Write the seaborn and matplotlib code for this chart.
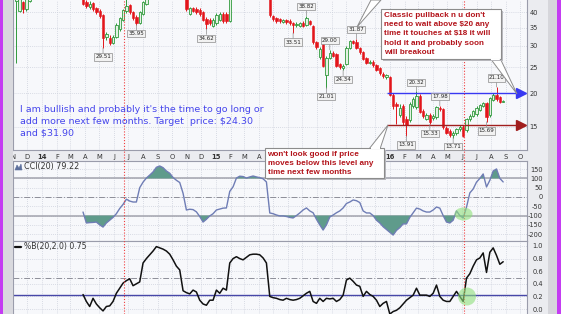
import numpy as np
import pandas as pd
import matplotlib
matplotlib.use("Agg")
import matplotlib.pyplot as plt
import matplotlib.dates as mdates
from matplotlib.patches import Rectangle, Polygon, Ellipse
from matplotlib.lines import Line2D
from matplotlib.ticker import NullLocator
from matplotlib.transforms import IdentityTransform
import seaborn as sns

# ---------------- data (weekly candles) ----------------
week_start = "2013-11-08"
opens = [44.0, 40.5, 43.5, 41.2, 44.0, 47.5, 49.0, 48.0, 51.0, 53.0,
         52.0, 50.0, 51.5, 54.0, 52.5, 50.0, 51.0, 49.0, 50.5, 48.5,
         47.0, 43.5, 42.0, 43.2, 41.5, 40.5, 39.0, 32.3, 32.2, 30.8,
         32.5, 34.8, 37.5, 40.3, 42.5, 40.0, 38.5, 36.6, 39.5, 43.0,
         46.5, 48.0, 50.0, 52.5, 51.5, 53.0, 51.0, 52.0, 49.5, 48.0,
         48.5, 46.0, 39.5, 41.5, 41.2, 40.8, 40.0, 37.8, 37.4, 35.6,
         36.5, 37.3, 39.5, 39.5, 37.2, 46.5, 49.0, 51.5, 50.5, 52.5,
         51.0, 53.5, 52.5, 51.0, 50.0, 49.0, 47.0, 38.6, 38.0, 37.6,
         36.8, 37.3, 37.2, 36.5, 35.8, 35.6, 36.6, 35.8, 37.0, 35.5,
         31.0, 27.2, 30.7, 23.4, 27.1, 28.2, 28.0, 25.6, 24.8, 25.8,
         29.5, 31.3, 31.0, 29.5, 28.4, 27.0, 26.0, 26.2, 25.4, 24.8,
         23.6, 23.0, 23.0, 19.8, 18.2, 16.6, 17.9, 16.0, 15.9, 18.0,
         17.8, 19.6, 17.2, 16.1, 16.6, 16.2, 16.3, 17.7, 17.5, 14.9,
         14.5, 14.0, 14.2, 14.7, 15.0, 14.6, 16.0, 16.5, 16.7, 17.4,
         18.0, 18.4, 16.6, 18.9, 19.7, 19.3, 18.6]
highs = [48.0, 46.0, 44.0, 46.0, 48.5, 50.0, 50.5, 52.0, 54.0, 54.5,
         53.0, 52.5, 55.0, 55.0, 53.0, 52.0, 51.5, 51.0, 51.0, 49.0,
         47.5, 44.5, 44.0, 43.8, 42.0, 41.0, 39.5, 33.8, 32.8, 33.0,
         36.5, 38.5, 41.2, 45.2, 43.0, 40.5, 39.0, 40.5, 44.0, 47.0,
         49.0, 51.0, 53.5, 54.0, 54.0, 53.5, 53.0, 52.5, 50.5, 49.5,
         49.0, 46.5, 42.0, 42.0, 41.8, 41.3, 40.5, 38.3, 38.0, 38.0,
         39.8, 40.0, 40.0, 40.0, 47.0, 50.0, 52.5, 52.5, 53.5, 53.0,
         54.5, 55.0, 53.0, 52.0, 51.0, 49.5, 47.5, 39.2, 38.5, 38.0,
         37.8, 37.7, 37.6, 36.8, 36.7, 36.8, 37.0, 38.82, 37.4, 35.8,
         31.4, 29.6, 31.0, 27.5, 29.0, 28.6, 28.3, 26.0, 25.7, 29.9,
         31.6, 31.6, 31.87, 29.8, 28.7, 27.3, 26.6, 26.5, 25.7, 25.0,
         24.0, 23.6, 23.2, 20.1, 18.6, 18.2, 18.2, 16.5, 18.6, 19.4,
         20.32, 19.9, 17.5, 16.9, 16.9, 16.8, 18.0, 17.98, 17.7, 15.1,
         14.7, 14.5, 14.9, 15.2, 15.3, 16.2, 16.7, 17.4, 17.9, 18.3,
         18.6, 18.6, 19.4, 20.0, 21.10, 19.5, 18.9]
lows = [26.0, 40.0, 39.9, 40.5, 43.5, 46.5, 47.0, 47.5, 50.0, 50.5,
        49.0, 49.0, 51.0, 51.5, 49.0, 48.5, 48.0, 47.5, 47.0, 45.5,
        42.5, 41.5, 41.0, 40.5, 39.5, 38.0, 29.51, 31.5, 30.3, 30.5,
        32.0, 34.2, 37.0, 39.8, 39.5, 37.5, 35.95, 36.2, 39.0, 42.5,
        45.5, 47.0, 49.5, 50.5, 50.0, 50.0, 49.5, 48.5, 47.0, 46.5,
        45.0, 40.5, 39.0, 40.0, 39.5, 38.8, 37.0, 34.62, 35.8, 35.2,
        36.0, 37.0, 36.5, 36.5, 36.8, 46.0, 48.5, 49.5, 50.0, 50.0,
        50.5, 51.5, 50.0, 49.0, 47.5, 46.0, 38.5, 37.2, 36.6, 36.5,
        36.4, 36.3, 36.0, 33.51, 35.4, 35.2, 35.2, 35.5, 35.8, 30.6,
        29.2, 26.8, 25.0, 21.01, 26.8, 27.2, 25.0, 24.6, 24.34, 25.5,
        29.2, 30.4, 29.2, 28.0, 26.5, 25.7, 25.7, 25.0, 24.2, 23.4,
        22.8, 22.7, 19.5, 17.5, 15.4, 16.3, 15.2, 13.91, 15.6, 17.7,
        17.5, 16.9, 16.2, 15.9, 15.33, 15.9, 16.1, 17.2, 14.8, 14.1,
        13.8, 13.71, 14.0, 14.5, 13.78, 14.4, 15.8, 16.3, 16.5, 17.2,
        17.8, 15.69, 16.4, 18.7, 18.8, 18.4, 18.5]
closes = [47.0, 45.0, 41.0, 44.8, 47.5, 49.0, 48.0, 51.0, 53.0, 52.0,
          50.0, 51.5, 54.0, 52.5, 50.0, 51.0, 49.0, 50.5, 48.5, 47.0,
          43.0, 42.2, 43.0, 41.0, 40.0, 38.6, 32.0, 33.2, 30.8, 32.5,
          36.0, 38.0, 40.6, 42.2, 40.0, 38.0, 36.6, 40.0, 43.5, 46.5,
          48.0, 50.0, 52.5, 51.5, 53.0, 51.0, 52.0, 49.5, 48.0, 48.5,
          46.0, 41.0, 41.5, 40.5, 40.0, 39.3, 37.5, 36.3, 36.5, 37.5,
          39.2, 39.5, 37.2, 37.2, 46.5, 49.0, 51.5, 50.5, 52.5, 51.0,
          53.5, 52.5, 51.0, 50.0, 49.0, 47.0, 39.0, 37.6, 37.2, 37.0,
          37.3, 36.8, 36.5, 35.8, 36.3, 36.4, 35.6, 38.0, 36.2, 31.0,
          29.8, 29.2, 25.3, 27.1, 28.2, 27.6, 25.3, 25.0, 25.3, 29.5,
          31.3, 30.8, 29.5, 28.4, 26.8, 26.0, 26.2, 25.4, 24.5, 23.8,
          23.2, 23.3, 19.7, 17.9, 17.9, 17.7, 15.6, 15.3, 18.3, 19.1,
          19.6, 17.1, 16.5, 16.6, 15.6, 16.5, 17.8, 17.5, 15.0, 14.3,
          14.0, 14.3, 14.7, 15.0, 13.85, 16.0, 16.5, 17.2, 17.7, 18.1,
          18.4, 16.4, 19.2, 19.8, 19.0, 18.6, 18.7]

indicator_start = 20  # first week with indicator values
cci_values = [-81, -140, -138, -137, -135, -150, -162, -140, -125, -110,
              -90, -62, -40, -12, -22, -27, -27, 50, 80, 102,
              118, 135, 160, 167, 158, 140, 128, 105, 90, 78,
              20, -70, -66, -68, -80, -105, -135, -120, -102, -90,
              -70, -65, -60, -59, 30, 55, 102, 112, 110, 102,
              108, 113, 108, 104, 98, 81, -86, -90, -97, -102,
              -102, -105, -110, -113, -100, -86, -70, -59, -75, -85,
              -120, -150, -178, -150, -108, -97, -85, -75, -59, -35,
              -27, -16, -20, -30, -75, -86, -86, -100, -125, -140,
              -160, -175, -190, -205, -180, -165, -145, -145, -110, -85,
              -60, -65, -75, -81, -81, -70, -54, -60, -100, -135,
              -140, -125, -75, -100, -113, -55, 22, 43, 80, 100,
              124, 54, 90, 140, 151, 100, 81]
pctb_values = [0.23, 0.12, 0.04, 0.17, 0.08, 0.02, -0.03, 0.04, 0.05, 0.12,
               0.25, 0.33, 0.41, 0.45, 0.48, 0.37, 0.40, 0.43, 0.73, 0.80,
               0.86, 0.92, 0.99, 0.97, 0.95, 0.92, 0.87, 0.78, 0.68, 0.62,
               0.29, 0.26, 0.24, 0.30, 0.27, 0.14, 0.08, 0.06, 0.14, 0.14,
               0.30, 0.25, 0.33, 0.30, 0.73, 0.80, 0.83, 0.80, 0.78, 0.82,
               0.86, 0.87, 0.87, 0.86, 0.81, 0.73, 0.20, 0.18, 0.17, 0.15,
               0.14, 0.17, 0.15, 0.14, 0.15, 0.17, 0.21, 0.25, 0.28, 0.12,
               0.09, 0.17, 0.12, 0.17, 0.16, 0.17, 0.12, 0.15, 0.22, 0.46,
               0.49, 0.44, 0.38, 0.36, 0.20, 0.28, 0.23, 0.20, 0.14, 0.04,
               0.09, 0.12, -0.08, -0.04, -0.02, 0.02, 0.08, 0.14, 0.18, 0.22,
               0.33, 0.22, 0.22, 0.22, 0.20, 0.25, 0.38, 0.20, 0.14, 0.12,
               0.12, 0.20, 0.28, 0.20, 0.12, 0.49, 0.56, 0.68, 0.78, 0.81,
               0.89, 0.58, 0.90, 0.97, 0.85, 0.71, 0.75]

month_labels = ["N", "D", "14", "F", "M", "A", "M", "J", "J", "A", "S", "O",
                "N", "D", "15", "F", "M", "A", "M", "J", "J", "A", "S", "O",
                "N", "D", "16", "F", "M", "A", "M", "J", "J", "A", "S", "O"]
price_ticks = [15, 20, 25, 30, 35, 40]
cci_ticks = [150, 100, 50, 0, -50, -100, -150, -200]
pctb_ticks = [0.0, 0.2, 0.4, 0.6, 0.8, 1.0]
resistance_level = 20.0
support_level = 15.3
pctb_signal = 0.23
marker_dates = ["2014-06-22", "2016-06-04"]
# (week index, price, label text, +1 above / -1 below)
price_labels = [(26, 29.51, "29.51", -1), (36, 35.95, "35.95", -1),
                (57, 34.62, "34.62", -1), (83, 33.51, "33.51", -1),
                (87, 38.82, "38.82", 1), (94, 29.00, "29.00", 1),
                (93, 21.01, "21.01", -1), (98, 24.34, "24.34", -1),
                (102, 31.87, "31.87", 1), (120, 20.32, "20.32", 1),
                (117, 13.91, "13.91", -1), (124, 15.33, "15.33", -1),
                (127, 17.98, "17.98", 1), (131, 13.71, "13.71", -1),
                (141, 15.69, "15.69", -1), (144, 21.10, "21.10", 1)]
cci_title = "CCI(20) 79.22"
pctb_title = "%B(20,2.0) 0.75"
note_bull = ["I am bullish and probably it's the time to go long or",
             "add more next few months. Target  price: $24.30",
             "and $31.90"]
note_pullback = ["Classic pullback n u don't", "need to wait above $20 any",
                 "time it touches at $18 it will", "hold it and probably soon",
                 "will breakout"]
note_support = ["won't look good if price", "moves below this level any",
                "time next few months"]

# ---------------- drawing ----------------
sns.set_theme(style="white")
plt.rcParams["font.family"] = ["DejaVu Sans"]

W, H = 561, 314
fig = plt.figure(figsize=(W / 100, H / 100), dpi=100)
fig.patch.set_facecolor("#ebecf0")
PX = IdentityTransform()


def rect(x0, y0, x1, y1):
    return [x0 / W, 1 - y1 / H, (x1 - x0) / W, (y1 - y0) / H]


L, R = 13, 527
ax_p = fig.add_axes(rect(L, 0, R, 150.5))
ax_c = fig.add_axes(rect(L, 160.5, R, 241))
ax_b = fig.add_axes(rect(L, 241, R, 314))

dates = pd.date_range(week_start, periods=len(closes), freq="W-FRI")
xn = mdates.date2num(dates)
xmin = mdates.date2num(pd.Timestamp("2013-11-01"))
xmax = mdates.date2num(pd.Timestamp("2016-10-15"))


def px2x(px):
    return xmin + (px - L) / (R - L) * (xmax - xmin)


def x2px(x):
    return L + (x - xmin) / (xmax - xmin) * (R - L)


months = pd.date_range("2013-11-01", periods=len(month_labels), freq="MS")
mn = mdates.date2num(months)

# ---- price panel ----
o, h, l, c = (np.array(a, float) for a in (opens, highs, lows, closes))
up = c >= o
wick_col = np.where(up, "#2f9a3c", "#e3151b")
ax_p.vlines(xn, l, h, colors=wick_col, linewidth=0.7, zorder=2)
lo = np.minimum(o, c)
ht = np.maximum(np.abs(c - o), 0.08)
ax_p.bar(xn[up], ht[up], bottom=lo[up], width=5.0, color="#e4f2e4",
         edgecolor="#2f9a3c", linewidth=0.6, zorder=3)
ax_p.bar(xn[~up], ht[~up], bottom=lo[~up], width=5.0, color="#e3151b",
         edgecolor="#e3151b", linewidth=0.4, zorder=3)

ax_p.hlines(resistance_level, px2x(387), px2x(518), color="#3838f2", lw=1.0, zorder=4)
ax_p.hlines(support_level, px2x(387), px2x(518), color="#a11e1e", lw=1.0, zorder=4)
ax_p.plot([px2x(521)], [resistance_level], marker=">", ms=7.5, color="#3838f2",
          clip_on=False, zorder=6)
ax_p.plot([px2x(521)], [support_level], marker=">", ms=7.5, color="#a11e1e",
          clip_on=False, zorder=6)

for i, v, txt, side in price_labels:
    ax_p.annotate(txt, xy=(xn[i], v), xytext=(0, side * 6.6),
                  textcoords="offset points", ha="center", va="center",
                  fontsize=4.0, color="#222222", zorder=7,
                  bbox=dict(boxstyle="square,pad=0.2", fc="#f2f2f2", ec="#8c8c8c", lw=0.5),
                  arrowprops=dict(arrowstyle="-", color="#8c8c8c", lw=0.5,
                                  shrinkA=0, shrinkB=0))

ax_p.set_yscale("log")
ax_p.set_ylim(12.27, 44.4)
ax_p.set_yticks(price_ticks)
ax_p.set_yticklabels([str(t) for t in price_ticks])
ax_p.yaxis.set_minor_locator(NullLocator())

# ---- CCI panel ----
xc = xn[indicator_start:]
ci = np.array(cci_values, float)
ax_c.fill_between(xc, ci, 100, where=ci >= 100, interpolate=True,
                  color="#5f9b8b", lw=0, zorder=2)
ax_c.fill_between(xc, ci, -100, where=ci <= -100, interpolate=True,
                  color="#5f9b8b", lw=0, zorder=2)
ax_c.axhline(100, color="#a2a3ad", lw=1.1, zorder=1.5)
ax_c.axhline(-100, color="#a2a3ad", lw=1.1, zorder=1.5)
ax_c.axhline(0, color="#8d8e98", lw=0.7, ls=(0, (6, 2, 1, 2)), zorder=1.5)
sns.lineplot(x=xc, y=ci, ax=ax_c, color="#6f7db5", linewidth=1.0, zorder=3)
ax_c.set_ylim(-237, 196.5)
ax_c.set_yticks(cci_ticks)
ax_c.set_yticklabels([str(t) for t in cci_ticks])

# ---- %B panel ----
bi = np.array(pctb_values, float)
ax_b.axhline(0.5, color="#8d8e98", lw=0.7, ls=(0, (6, 2, 1, 2)), zorder=1.5)
ax_b.axhline(pctb_signal, color="#4747a8", lw=1.0, zorder=1.5)
sns.lineplot(x=xc, y=bi, ax=ax_b, color="#111111", linewidth=1.1, zorder=3)
ax_b.set_ylim(-0.079, 1.079)
ax_b.set_yticks(pctb_ticks)
ax_b.set_yticklabels([f"{t:.1f}" for t in pctb_ticks])

# ---- common styling ----
for ax in (ax_p, ax_c, ax_b):
    ax.set_facecolor("#f7f8fb")
    ax.set_xlim(xmin, xmax)
    ax.set_xticks(mn)
    ax.set_xlabel("")
    ax.set_ylabel("")
    ax.grid(True, which="major", color="#cdd1dc", linestyle=(0, (1, 1.5)), linewidth=0.6)
    ax.set_axisbelow(True)
    for s in ax.spines.values():
        s.set_color("#9a9cab")
        s.set_linewidth(0.8)
    ax.yaxis.tick_right()
    ax.tick_params(axis="y", which="both", length=0, labelsize=4.8, labelcolor="#333333")
    ax.tick_params(axis="x", length=0, labelbottom=False)
ax_p.spines["top"].set_visible(False)
ax_b.spines["bottom"].set_visible(False)
ax_p.tick_params(axis="y", pad=1.6)
for ax in (ax_c, ax_b):
    ax.tick_params(axis="y", pad=11.4)
    for lab in ax.get_yticklabels():
        lab.set_horizontalalignment("right")

# month labels; the ones sitting under the "won't look good" note box are hidden by it
box2 = (265, 384)
shown_months = ["" if box2[0] + 3 < x2px(m) < box2[1] + 3 else t
                for t, m in zip(month_labels, mn)]
ax_p.tick_params(axis="x", labelbottom=True, pad=2.2, labelsize=4.9, labelcolor="#333333")
ax_p.set_xticklabels(shown_months)
for lab in ax_p.get_xticklabels():
    if lab.get_text().isdigit():
        lab.set_fontweight("bold")

# ---------------- figure-level decorations (pixel coordinates) ----------------
def add_rect(x0, y0, x1, y1, **kw):
    fig.add_artist(Rectangle((x0, H - y1), x1 - x0, y1 - y0, transform=PX, **kw))


def add_poly(pts, **kw):
    fig.add_artist(Polygon([(x, H - y) for x, y in pts], closed=True, transform=PX, **kw))


def ftext(x, y, s, **kw):
    fig.text(x / W, 1 - y / H, s, **kw)


add_rect(0, 0, 3, H, fc="#c43cf2", ec="none", zorder=1)
add_rect(3, 0, 12.5, H, fc="#d9d9de", ec="none", zorder=1)
add_rect(548, 0, 557, H, fc="#d6d6db", ec="none", zorder=1)
add_rect(557, 0, W, H, fc="#c43cf2", ec="none", zorder=1)

# vertical red dotted markers
for d in marker_dates:
    xp = x2px(mdates.date2num(pd.Timestamp(d)))
    fig.add_artist(Line2D([xp, xp], [0, H], transform=PX, color="#f03c3c",
                          lw=0.8, ls=(0, (1, 1.6)), zorder=4))

# panel titles
add_poly([(15, 170), (17, 165), (19, 168), (21, 164), (22, 170)], fc="#5c6f9c",
         ec="#5c6f9c", lw=0.4, zorder=5)
ftext(24, 167, cci_title, fontsize=5.8, color="#333333", va="center", ha="left", zorder=5)
fig.add_artist(Line2D([15, 21], [H - 246.5, H - 246.5], transform=PX, color="#111111",
                      lw=1.6, zorder=5))
ftext(24, 246.5, pctb_title, fontsize=5.6, color="#333333", va="center", ha="left", zorder=5)

# bullish note
for k, line in enumerate(note_bull):
    ftext(20, 109.5 + 11.8 * k, line, fontsize=6.8, color="#4646ec",
          va="center", ha="left", zorder=5)

# callout tails and boxes
tail_kw = dict(fc="white", ec="#8c8c8c", lw=0.7, zorder=6)
add_poly([(371, 0), (381, 0), (357, 27)], **tail_kw)
add_poly([(490, 58), (500, 58), (517, 94)], **tail_kw)
add_poly([(369, 149), (380, 149), (388, 125)], **tail_kw)

add_rect(383, 11, 503, 61, fc="#b9b9be", ec="none", zorder=6.5)
add_rect(381, 9, 501, 59, fc="white", ec="#8c8c8c", lw=0.8, zorder=7)
add_rect(267, 150, 386, 180, fc="#b9b9be", ec="none", zorder=6.5)
add_rect(box2[0], 148, box2[1], 178, fc="white", ec="#8c8c8c", lw=0.8, zorder=7)
add_poly([(491, 58.2), (499.5, 58.2), (500, 60), (491, 60)], fc="white", ec="none", zorder=7.2)
add_poly([(370.5, 147.3), (379.5, 147.3), (379.5, 149), (370.5, 149)], fc="white", ec="none", zorder=7.2)

bold_font = dict(family=["Liberation Sans", "DejaVu Sans"], weight="bold", fontsize=5.9,
                 color="#b3141b", va="center", ha="left", zorder=8)
for k, line in enumerate(note_pullback):
    ftext(384, 15.5 + 9.2 * k, line, **bold_font)
for k, line in enumerate(note_support):
    ftext(267.5, 154.5 + 9.2 * k, line, **bold_font)

# green highlight marks
fig.add_artist(Ellipse((463.5, H - 214), 18, 13, transform=PX, fc="#8fe07c",
                       ec="none", alpha=0.6, zorder=5))
fig.add_artist(Ellipse((467, H - 296.5), 18, 18, transform=PX, fc="#8fe07c",
                       ec="none", alpha=0.6, zorder=5))

fig.savefig("out.png", dpi=100, facecolor=fig.get_facecolor())
